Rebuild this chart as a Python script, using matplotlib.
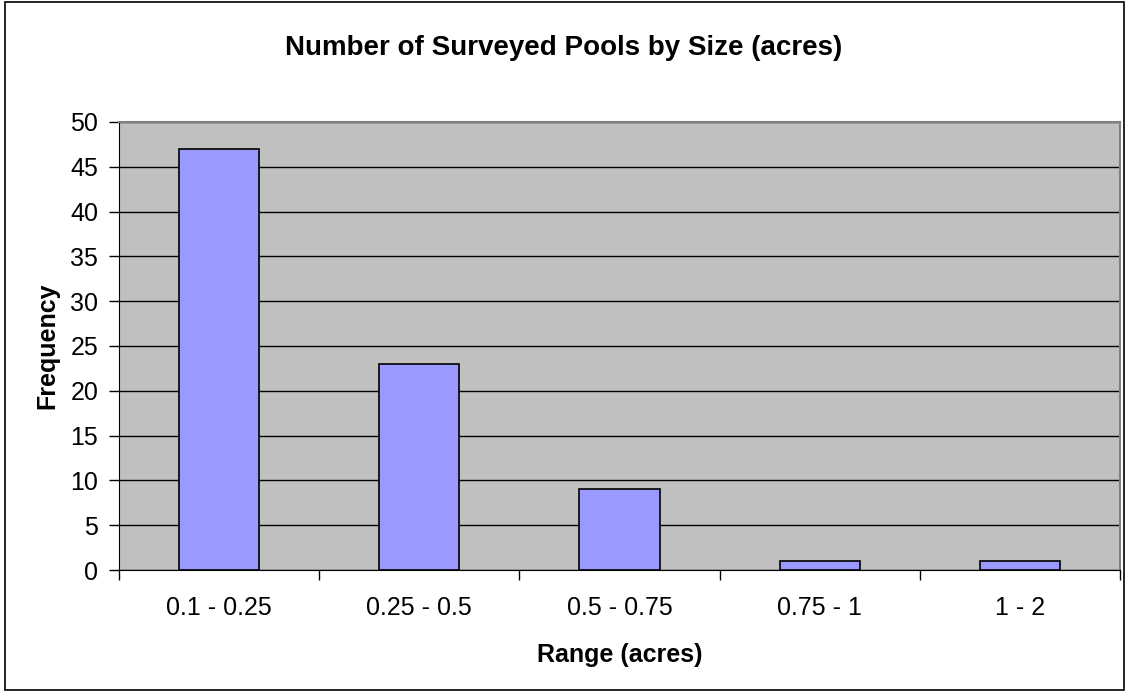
import matplotlib.pyplot as plt
from matplotlib.patches import Rectangle

categories = ['0.1 - 0.25', '0.25 - 0.5', '0.5 - 0.75', '0.75 - 1', '1 - 2']
frequency = [47, 23, 9, 1, 1]

plt.rcParams['font.family'] = ['Liberation Sans', 'DejaVu Sans']

fig = plt.figure(figsize=(11.28, 6.92), dpi=100)
W, H = 1128, 692
ax = fig.add_axes([119 / W, 1 - 570 / H, (1120 - 119) / W, (570 - 122) / H])

# outer chart border
fig.patches.append(Rectangle((5 / W, 2 / H), 1 - 9 / W, 1 - 4 / H, transform=fig.transFigure,
                             fill=False, edgecolor='black', linewidth=1.2))

x = range(len(categories))
ax.set_facecolor('#C0C0C0')
ax.bar(x, frequency, width=0.4, color='#9999FF', edgecolor='black', linewidth=1.2, zorder=3)

ax.set_xlim(-0.5, len(categories) - 0.5)
ax.set_ylim(0, 50)
ax.set_yticks(range(0, 51, 5))
ax.yaxis.grid(True, color='black', linewidth=1)
ax.set_axisbelow(True)

ax.set_xticks(list(x))
ax.set_xticklabels(categories, fontsize=18)
ax.tick_params(axis='x', length=0, pad=19)
ax.set_xticks([i - 0.5 for i in range(len(categories) + 1)], minor=True)
ax.tick_params(axis='x', which='minor', length=7, width=1)
ax.tick_params(axis='y', labelsize=18, length=7, width=1, pad=8)

for side in ['top', 'right']:
    ax.spines[side].set_color('#808080')
    ax.spines[side].set_linewidth(1.5)
for side in ['left', 'bottom']:
    ax.spines[side].set_color('black')

ax.set_xlabel('Range (acres)', fontsize=18, fontweight='bold', labelpad=16)
ax.set_ylabel('Frequency', fontsize=18, fontweight='bold', labelpad=8)
fig.text(0.5, 1 - 48 / H, 'Number of Surveyed Pools by Size (acres)', ha='center', va='center',
         fontsize=20, fontweight='bold')

fig.savefig('out.png', dpi=100)
